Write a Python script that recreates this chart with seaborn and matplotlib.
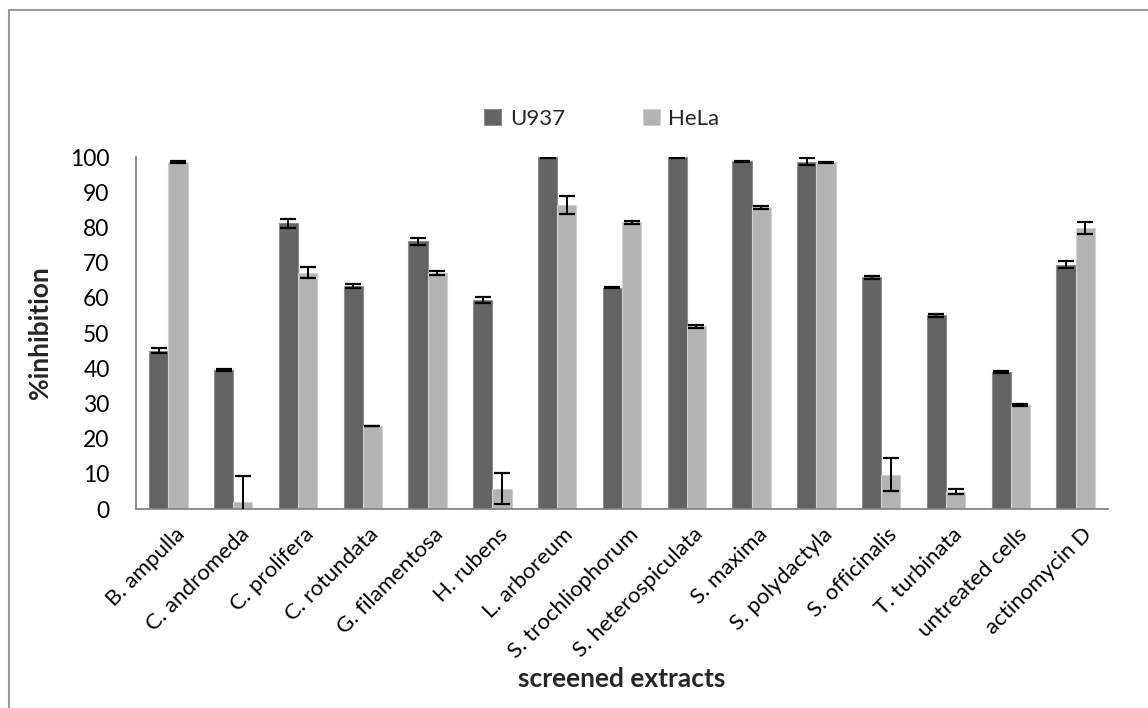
import matplotlib
matplotlib.use("Agg")
import matplotlib.pyplot as plt
from matplotlib.lines import Line2D
from matplotlib.patches import Patch
import matplotlib.transforms as mtransforms
import seaborn as sns
import pandas as pd
import numpy as np

# Screened extracts and cell lines
extracts = ["B. ampulla", "C. andromeda", "C. prolifera", "C. rotundata",
            "G. filamentosa", "H. rubens", "L. arboreum", "S. trochliophorum",
            "S. heterospiculata", "S. maxima", "S. polydactyla", "S. officinalis",
            "T. turbinata", "untreated cells", "actinomycin D"]
cell_lines = ["U937", "HeLa"]

# % inhibition (mean) and error per cell line
u937 = [45.0, 39.5, 81.2, 63.3, 76.1, 59.3, 99.9, 62.9, 99.9, 98.8, 98.7, 65.8, 55.0, 38.9, 69.4]
u937_err = [0.7, 0.2, 1.3, 0.5, 1.0, 0.9, 0.2, 0.1, 0.2, 0.2, 1.1, 0.5, 0.5, 0.3, 1.0]
hela = [98.5, 2.0, 67.1, 23.6, 67.1, 5.8, 86.4, 81.4, 51.9, 85.7, 98.5, 9.7, 4.9, 29.5, 79.8]
hela_err = [0.3, 7.3, 1.6, 0.1, 0.6, 4.4, 2.6, 0.4, 0.5, 0.5, 0.2, 4.7, 0.7, 0.2, 1.6]

colors = {"U937": "#636363", "HeLa": "#b3b3b3"}
edges = {"U937": "#8c8c8c", "HeLa": "#cfcfcf"}

df = pd.DataFrame({
    "extract": extracts * 2,
    "cell": ["U937"] * len(extracts) + ["HeLa"] * len(extracts),
    "inhibition": u937 + hela,
    "err": u937_err + hela_err,
})

sns.set_theme(style="white")
plt.rcParams["font.family"] = ["Lato", "DejaVu Sans"]

W, H = 1148, 708
fig = plt.figure(figsize=(W / 100, H / 100), dpi=100)
ax = fig.add_axes([136 / W, 1 - 509 / H, (1108 - 136) / W, (509 - 157) / H])

sns.barplot(data=df, x="extract", y="inhibition", hue="cell", order=extracts,
            hue_order=cell_lines, palette=colors, width=0.59, errorbar=None,
            saturation=1, legend=False, ax=ax)

# Outline the bars and add the error bars at each bar's centre
bars = [p for p in ax.patches if p.get_height() > 0]
n = len(extracts)
for k, cell in enumerate(cell_lines):
    sub = df[df["cell"] == cell]
    group = bars[k * n:(k + 1) * n]
    xs = [b.get_x() + b.get_width() / 2 for b in group]
    for b in group:
        b.set_edgecolor(edges[cell])
        b.set_linewidth(0.8)
    ax.errorbar(xs, sub["inhibition"].values, yerr=sub["err"].values, fmt="none",
                ecolor="black", elinewidth=1.4, capsize=5.5, capthick=1.6, zorder=5)

ax.set_ylim(0, 100)
ax.set_xlim(-0.5, n - 0.5)
ax.set_yticks(np.arange(0, 101, 10))
ax.tick_params(axis="both", length=0, colors="black")
ax.tick_params(axis="y", labelsize=16.5, pad=19)
for s in ["top", "right"]:
    ax.spines[s].set_visible(False)
for s in ["left", "bottom"]:
    ax.spines[s].set_color("#868686")
    ax.spines[s].set_linewidth(1.3)

ax.set_xticks(range(n))
ax.set_xticklabels(extracts, rotation=45, ha="right", va="center",
                   rotation_mode="anchor", fontsize=16)
ax.tick_params(axis="x", pad=16)
shift = mtransforms.ScaledTranslation(13 / 100, 0, fig.dpi_scale_trans)
for lbl in ax.get_xticklabels():
    lbl.set_transform(lbl.get_transform() + shift)

ax.set_ylabel("%inhibition", fontsize=19, fontweight="bold")
ax.yaxis.set_label_coords((52 - 136) / 972, 0.5)
ax.set_xlabel("screened extracts", fontsize=19, fontweight="bold")
ax.xaxis.set_label_coords(0.5, -(667 - 509) / 352)

handles = [Patch(facecolor=colors[c], edgecolor=edges[c], linewidth=0.8) for c in cell_lines]
fig.legend(handles, cell_lines, loc="center", bbox_to_anchor=(602 / W, 1 - 119 / H),
           ncol=2, frameon=False, fontsize=16, handlelength=0.75, handleheight=0.75,
           handletextpad=0.4, columnspacing=3.5)

# Chart area border
fig.add_artist(Line2D([9 / W, 1.0], [1 - 10 / H, 1 - 10 / H],
                      transform=fig.transFigure, color="#9a9a9a", linewidth=1.5))
fig.add_artist(Line2D([9 / W, 9 / W], [0.0, 1 - 10 / H],
                      transform=fig.transFigure, color="#9a9a9a", linewidth=1.5))

fig.savefig("out.png", dpi=100)
